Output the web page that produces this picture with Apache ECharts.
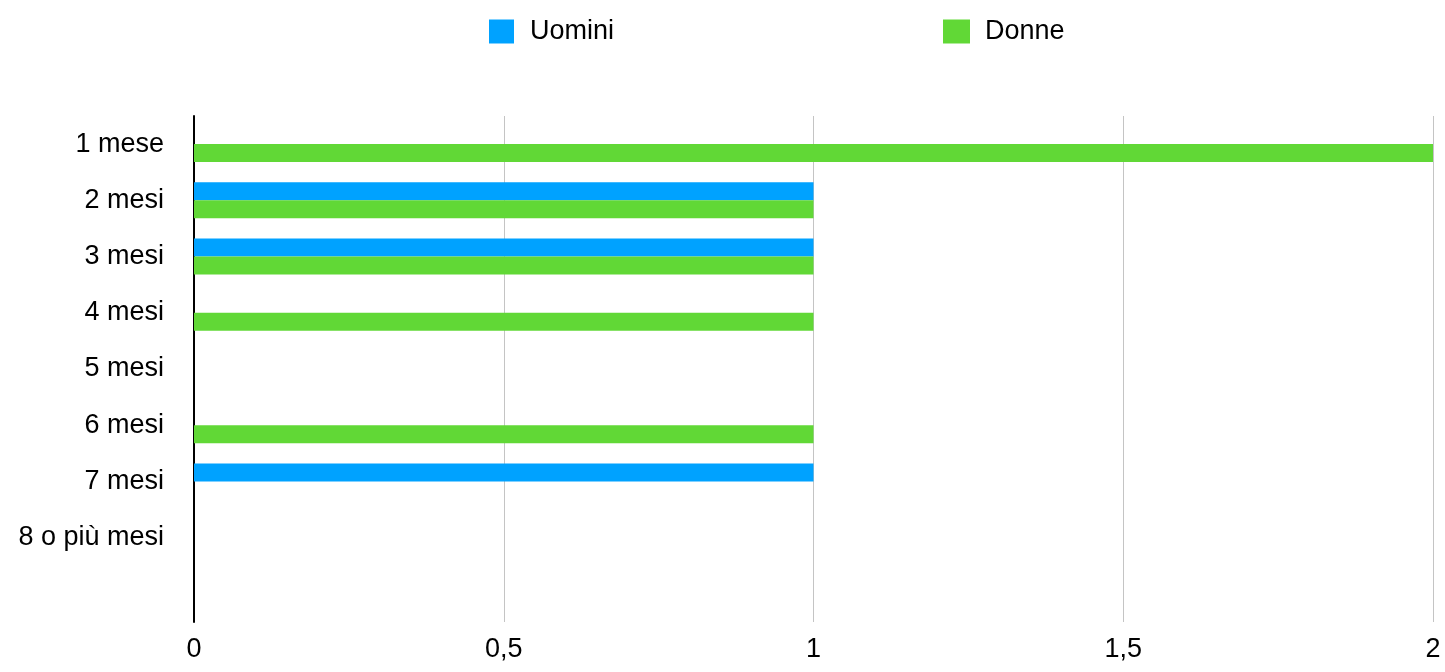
<!DOCTYPE html>
<html>
<head>
<meta charset="utf-8">
<script src="https://cdn.jsdelivr.net/npm/echarts@6/dist/echarts.min.js"></script>
<style>
html,body{margin:0;padding:0;background:#fff;}
#chart{width:1445px;height:672px;}
</style>
</head>
<body>
<div id="chart"></div>
<script>
const categories = ['1 mese', '2 mesi', '3 mesi', '4 mesi', '5 mesi', '6 mesi', '7 mesi', '8 o più mesi', ''];
const uomini = [0, 1, 1, 0, 0, 0, 1, 0];
const donne = [2, 1, 1, 1, 0, 1, 0, 0];
const xTicks = { min: 0, max: 2, interval: 0.5 };

const FONT = 'Liberation Sans, Arial, Helvetica, sans-serif';
const chart = echarts.init(document.getElementById('chart'), null, { renderer: 'canvas' });
chart.setOption({
  animation: false,
  backgroundColor: '#ffffff',
  textStyle: { fontFamily: FONT },
  legend: [
    {
      data: ['Uomini'], left: 484, top: 13, itemWidth: 25, itemHeight: 24,
      icon: 'rect',
      textStyle: { fontSize: 27, color: '#000', fontFamily: FONT, padding: [0, 0, 0, 11] }
    },
    {
      data: ['Donne'], left: 938, top: 13, itemWidth: 27, itemHeight: 24,
      icon: 'rect',
      textStyle: { fontSize: 27, color: '#000', fontFamily: FONT, padding: [0, 0, 0, 10] }
    }
  ],
  grid: { left: 194, right: 12, top: 116, bottom: 50, containLabel: false },
  xAxis: {
    type: 'value',
    min: xTicks.min, max: xTicks.max, interval: xTicks.interval,
    axisLine: { show: false },
    axisTick: { show: false },
    splitLine: { show: true, lineStyle: { color: '#c4c4c4', width: 1 } },
    axisLabel: {
      margin: 14, fontSize: 27, color: '#000', fontFamily: FONT,
      formatter: v => String(v).replace('.', ',')
    }
  },
  yAxis: {
    type: 'category',
    inverse: true,
    data: categories,
    axisLine: { show: true, lineStyle: { color: '#000', width: 2 } },
    axisTick: { show: false },
    splitLine: { show: false },
    axisLabel: { margin: 30, fontSize: 27, color: '#000', fontFamily: FONT }
  },
  series: [
    {
      name: 'Uomini', type: 'bar', data: uomini,
      barWidth: 18, barGap: '0%',
      itemStyle: { color: '#00A2FF' }
    },
    {
      name: 'Donne', type: 'bar', data: donne,
      barWidth: 18, barGap: '0%',
      itemStyle: { color: '#61D836' }
    }
  ]
});
</script>
</body>
</html>
